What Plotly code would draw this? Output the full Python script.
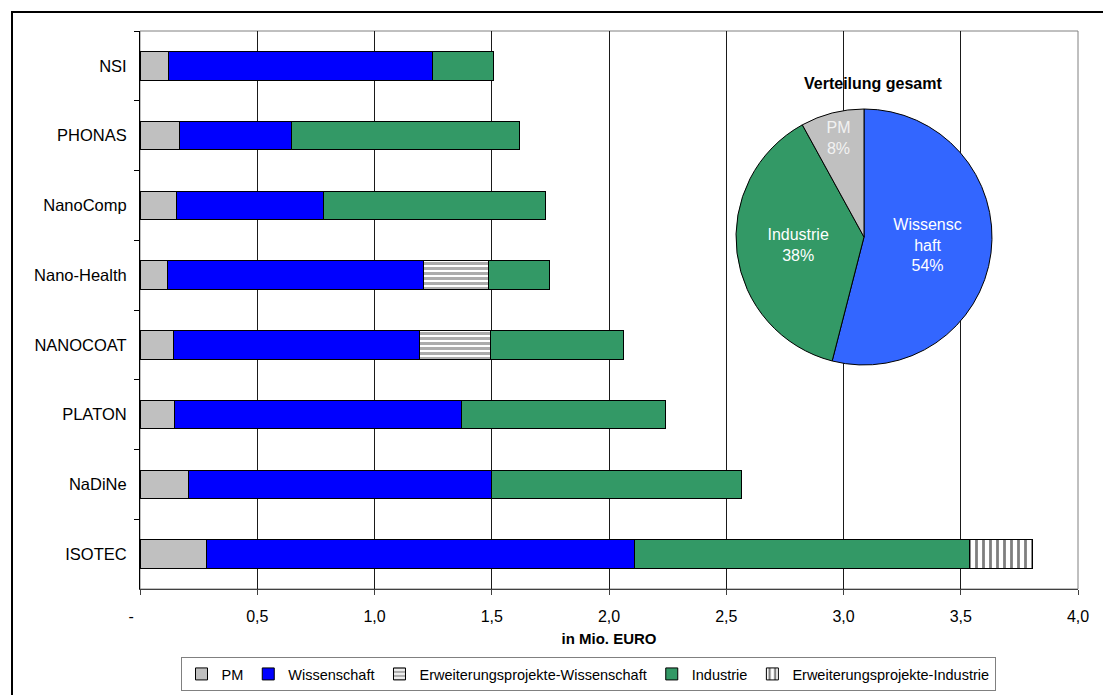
import plotly.graph_objects as go

# ---- data ----
categories = ["NSI", "PHONAS", "NanoComp", "Nano-Health", "NANOCOAT", "PLATON", "NaDiNe", "ISOTEC"]
pm = [0.12, 0.169, 0.155, 0.117, 0.142, 0.146, 0.206, 0.283]
wissenschaft = [1.126, 0.477, 0.628, 1.092, 1.048, 1.226, 1.293, 1.827]
erw_wissenschaft = [0, 0, 0, 0.279, 0.304, 0, 0, 0]
industrie = [0.262, 0.973, 0.947, 0.26, 0.567, 0.870, 1.067, 1.427]
erw_industrie = [0, 0, 0, 0, 0, 0, 0, 0.269]

x_tickvals = [0, 0.5, 1.0, 1.5, 2.0, 2.5, 3.0, 3.5, 4.0]
x_ticktext = ["-\u00a0\u00a0\u00a0\u00a0", "0,5", "1,0", "1,5", "2,0", "2,5", "3,0", "3,5", "4,0"]

pie_labels = ["Wissensc<br>haft", "Industrie", "PM"]
pie_values = [54, 38, 8]

FONT = "Liberation Sans, Arial, sans-serif"
W, H = 1103, 695
L, R, T, B = 140, 25, 31, 106
pw, ph = W - L - R, H - T - B

def px_x(px):
    return (px - L) / pw

def px_y(py):
    return (H - B - py) / ph

fig = go.Figure()

line = dict(color="black", width=1)
fig.add_trace(go.Bar(y=categories, x=pm, name="PM", orientation="h",
                     marker=dict(color="#C0C0C0", line=line)))
fig.add_trace(go.Bar(y=categories, x=wissenschaft, name="Wissenschaft", orientation="h",
                     marker=dict(color="#0000FF", line=line)))
fig.add_trace(go.Bar(y=categories, x=erw_wissenschaft, name="Erweiterungsprojekte-Wissenschaft",
                     orientation="h",
                     marker=dict(color="white", line=line,
                                 pattern=dict(shape="-", fgcolor="#5A5A5A", bgcolor="white",
                                              size=5, solidity=0.6))))
fig.add_trace(go.Bar(y=categories, x=industrie, name="Industrie", orientation="h",
                     marker=dict(color="#339966", line=line)))
fig.add_trace(go.Bar(y=categories, x=erw_industrie, name="Erweiterungsprojekte-Industrie",
                     orientation="h",
                     marker=dict(color="white", line=line,
                                 pattern=dict(shape="|", fgcolor="black", bgcolor="white",
                                              size=7, solidity=0.4))))

# pie inset
cx, cy, r = 864, 237, 128
fig.add_trace(go.Pie(
    labels=pie_labels, values=pie_values, sort=False, direction="clockwise", rotation=0,
    marker=dict(colors=["#3366FF", "#339966", "#C0C0C0"], line=dict(color="black", width=1)),
    texttemplate="%{label}<br>%{percent:.0%}", textposition="inside",
    insidetextorientation="horizontal",
    textfont=dict(family=FONT, size=16, color=["white", "white", "#F2F2F2"]),
    domain=dict(x=[px_x(cx - r), px_x(cx + r)], y=[px_y(cy + r), px_y(cy - r)]),
    showlegend=False, hoverinfo="label+percent"))

fig.update_layout(
    width=W, height=H,
    margin=dict(l=L, r=R, t=T, b=B, autoexpand=False),
    paper_bgcolor="white", plot_bgcolor="white",
    barmode="stack", bargap=0.59,
    font=dict(family=FONT, size=16, color="black"),
    showlegend=True,
    legend=dict(orientation="h", x=px_x(588), xanchor="center", y=px_y(691), yanchor="bottom",
                bordercolor="#808080", borderwidth=1, traceorder="normal",
                font=dict(family=FONT, size=14.5, color="black"),
                itemwidth=30, tracegroupgap=0),
    xaxis=dict(range=[0, 4.0], tickvals=x_tickvals, ticktext=x_ticktext,
               showgrid=True, gridcolor="#1a1a1a", gridwidth=1,
               showline=True, linecolor="#404040", linewidth=1,
               ticks="outside", ticklen=5, tickcolor="#404040",
               zeroline=False, automargin=False,
               ticklabelstandoff=8,
               tickfont=dict(family=FONT, size=16),
               title=dict(text="<b>in Mio. EURO</b>", font=dict(family=FONT, size=15), standoff=9)),
    yaxis=dict(autorange="reversed", showgrid=False,
               showline=True, linecolor="black", linewidth=1,
               ticks="outside", ticklen=5, tickcolor="black", tickson="boundaries",
               ticklabelstandoff=9, automargin=False,
               tickfont=dict(family=FONT, size=16.5)),
    shapes=[
        # white area behind the pie, hides gridlines
        dict(type="rect", xref="paper", yref="paper", layer="between",
             x0=px_x(668), x1=px_x(1070), y0=px_y(388), y1=px_y(49),
             fillcolor="white", line=dict(width=0)),
        # plot-area frame (grey)
        dict(type="rect", xref="paper", yref="paper", layer="below",
             x0=0, x1=1, y0=0, y1=1, line=dict(color="#808080", width=1)),
        # outer chart border
        dict(type="rect", xref="paper", yref="paper", layer="above",
             x0=px_x(12), x1=px_x(1120), y0=px_y(710), y1=px_y(12),
             line=dict(color="black", width=2)),
    ],
    annotations=[
        dict(text="<b>Verteilung gesamt</b>", xref="paper", yref="paper",
             x=px_x(873), y=px_y(84), xanchor="center", yanchor="middle",
             showarrow=False, font=dict(family=FONT, size=16, color="black")),
    ],
)

fig.write_html("out.html")
